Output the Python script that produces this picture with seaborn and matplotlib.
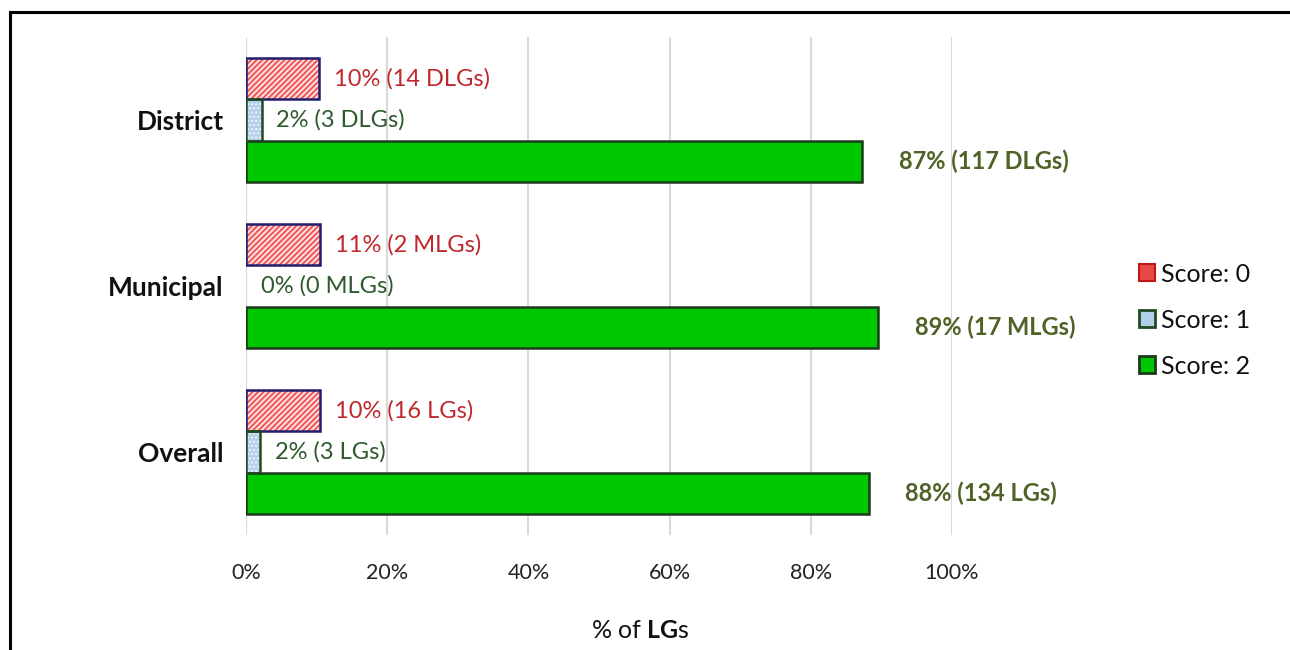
import matplotlib
matplotlib.use("Agg")
import matplotlib.pyplot as plt
import matplotlib.patches as mpatches
import seaborn as sns
import pandas as pd

# ---- data ----
groups = ["District", "Municipal", "Overall"]
scores = ["Score: 0", "Score: 1", "Score: 2"]
district_pct = [10.4, 2.2, 87.3]
municipal_pct = [10.5, 0.0, 89.5]
overall_pct = [10.5, 2.0, 88.2]
district_labels = ["10% (14 DLGs)", "2% (3 DLGs)", "87% (117 DLGs)"]
municipal_labels = ["11% (2 MLGs)", "0% (0 MLGs)", "89% (17 MLGs)"]
overall_labels = ["10% (16 LGs)", "2% (3 LGs)", "88% (134 LGs)"]
x_ticks = [0, 20, 40, 60, 80, 100]
x_tick_labels = ["0%", "20%", "40%", "60%", "80%", "100%"]

rows = []
for g, vals in zip(groups, [district_pct, municipal_pct, overall_pct]):
    for s, v in zip(scores, vals):
        rows.append({"group": g, "score": s, "pct": v})
df = pd.DataFrame(rows)
labels_by_score = [list(t) for t in zip(district_labels, municipal_labels, overall_labels)]

sns.set_theme(style="white")
plt.rcParams["font.family"] = ["Lato", "DejaVu Sans"]
plt.rcParams["mathtext.fontset"] = "custom"
plt.rcParams["mathtext.rm"] = "Lato"
plt.rcParams["mathtext.bf"] = "Lato:bold"
plt.rcParams["hatch.linewidth"] = 1.2

W, H = 1290, 650
fig = plt.figure(figsize=(W / 100, H / 100), dpi=100)
ax = fig.add_axes([246 / W, 1 - 535 / H, (952 - 246) / W, (535 - 37) / H])

face_cols = ["#FFDADA", "#B3CDEB", "#00C800"]
edge_cols = ["#1F1F6E", "#1E4A22", "#1B3A1B"]
hatch_cols = ["#F04848", "#EEF4FB", None]
hatches = ["//////", "....", None]
label_cols = ["#C0282D", "#2E5A2E", "#4F6228"]
label_weights = ["normal", "normal", "bold"]
paddings = [10.5, 10.5, 26.5]
value_fs = 17

sns.barplot(data=df, y="group", x="pct", hue="score", hue_order=scores,
            order=groups, orient="h", width=0.75, palette=face_cols,
            legend=False, ax=ax, saturation=1)

for i, cont in enumerate(ax.containers):
    for p in cont:
        p.set_facecolor(face_cols[i])
        p.set_edgecolor(edge_cols[i])
        p.set_linewidth(1.8)
        if hatches[i]:
            p.set_edgecolor(hatch_cols[i])
            p.set_hatch(hatches[i])
            p.set_linewidth(0)
            if p.get_width() > 0:
                outline = mpatches.Rectangle((p.get_x(), p.get_y()), p.get_width(), p.get_height(),
                                             facecolor="none", edgecolor=edge_cols[i], linewidth=1.8,
                                             zorder=p.get_zorder() + 0.1)
                ax.add_patch(outline)
    ax.bar_label(cont, labels=labels_by_score[i], padding=paddings[i], color=label_cols[i],
                 fontsize=value_fs, fontweight=label_weights[i], clip_on=False)

ax.set_xlim(0, 100)
ax.set_ylim(2.5, -0.5)
ax.set_xticks(x_ticks)
ax.set_xticklabels(x_tick_labels, fontsize=15.5, color="#222222")
ax.tick_params(axis="x", length=0, pad=20)
ax.tick_params(axis="y", length=0, pad=16)
for t in ax.get_yticklabels():
    t.set_fontweight("bold")
    t.set_fontsize(19)
    t.set_color("#111111")
ax.set_ylabel("")
ax.set_xlabel("")
ax.grid(axis="x", color="#D9D9D9", linewidth=1.5)
ax.set_axisbelow(True)
for s in ax.spines.values():
    s.set_visible(False)

fig.text(640 / W, 1 - 630 / H, r"% of $\mathbf{LG}$s", ha="center", va="center",
         fontsize=18, color="#111111")

handles = [
    mpatches.Patch(facecolor="#E84848", edgecolor="#C01818", linewidth=1.5),
    mpatches.Patch(facecolor=face_cols[1], edgecolor=edge_cols[1], linewidth=2),
    mpatches.Patch(facecolor=face_cols[2], edgecolor=edge_cols[2], linewidth=2),
]
leg = fig.legend(handles, scores, loc="upper left", bbox_to_anchor=(1116 / W, 1 - 240 / H),
                 frameon=False, fontsize=18, handlelength=0.65, handleheight=0.65,
                 handletextpad=0.25, labelspacing=0.92)
for t in leg.get_texts():
    t.set_color("#111111")

frame = mpatches.Rectangle((10 / W, -0.1), 1.2, 1.1 - 12 / H, transform=fig.transFigure,
                           facecolor="none", edgecolor="black", linewidth=2.2, clip_on=False)
fig.patches.append(frame)

fig.savefig("out.png", dpi=100)
